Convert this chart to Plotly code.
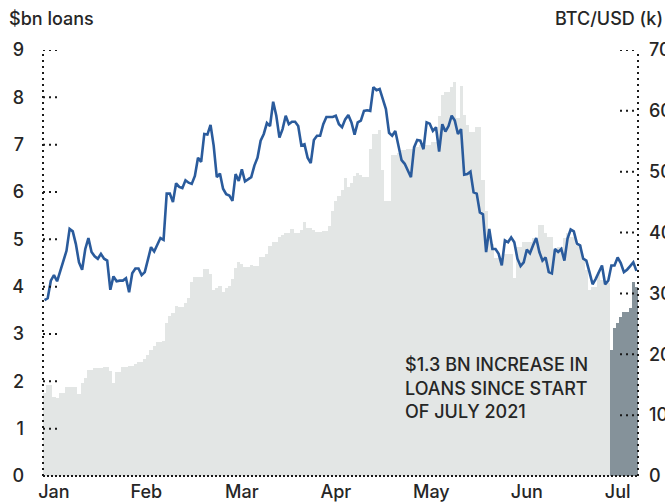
import pandas as pd
import plotly.graph_objects as go

# Daily data, 1 Jan 2021 – 9 Jul 2021
start_date = "2021-01-01"
n_days = 190
july_start_index = 181  # 1 July

loans_bn = [
    1.75, 1.92, 1.92, 1.67, 1.65, 1.75, 1.75, 1.88, 1.88, 1.88,
    1.88, 1.73, 1.96, 2.07, 2.24, 2.24, 2.28, 2.28, 2.28, 2.31,
    2.31, 2.22, 1.96, 2.20, 2.20, 2.30, 2.30, 2.33, 2.33, 2.37,
    2.40, 2.40, 2.47, 2.56, 2.66, 2.75, 2.83, 2.83, 2.85, 3.23,
    3.38, 3.44, 3.59, 3.58, 3.58, 3.66, 3.76, 4.10, 4.20, 4.20,
    4.20, 4.37, 4.37, 4.27, 3.93, 3.97, 4.01, 3.89, 3.97, 4.01,
    4.16, 4.39, 4.53, 4.48, 4.42, 4.42, 4.46, 4.44, 4.44, 4.63,
    4.63, 4.69, 4.86, 4.94, 4.94, 5.05, 5.09, 5.14, 5.14, 5.22,
    5.14, 5.14, 5.20, 5.37, 5.24, 5.24, 5.20, 5.15, 5.15, 5.18,
    5.18, 5.28, 5.60, 5.81, 5.91, 6.04, 6.30, 6.11, 6.19, 6.34,
    6.40, 6.36, 6.32, 6.32, 6.90, 7.22, 7.22, 7.31, 6.46, 5.82,
    5.82, 6.78, 6.78, 6.82, 6.89, 6.89, 6.90, 6.90, 6.95, 6.95,
    7.00, 7.00, 7.00, 7.00, 7.05, 7.05, 7.60, 8.05, 8.11, 8.11,
    8.22, 8.32, 7.56, 8.24, 7.63, 7.42, 7.27, 7.27, 7.37, 7.37,
    6.25, 5.60, 5.00, 4.90, 4.60, 4.60, 4.60, 4.70, 4.70, 4.70,
    4.18, 4.84, 4.84, 4.94, 4.94, 4.94, 5.03, 4.95, 5.30, 5.30,
    5.13, 5.05, 5.05, 4.78, 4.84, 4.84, 5.03, 5.13, 5.05, 5.05,
    4.88, 4.88, 4.60, 4.35, 3.93, 4.00, 4.00, 4.31, 4.14, 4.07,
    4.07, 2.66, 3.12, 3.23, 3.36, 3.46, 3.46, 3.55, 4.10, 4.00,
]

btc_usd_k = [
    28.9, 29.2, 32.1, 33.0, 32.0, 33.8, 35.4, 37.0, 40.6, 40.2,
    38.1, 35.1, 33.9, 37.3, 39.1, 36.8, 36.1, 35.7, 36.5, 35.7,
    35.4, 30.6, 32.8, 32.0, 32.1, 32.1, 32.5, 30.2, 33.3, 34.1,
    34.1, 33.0, 33.5, 35.7, 37.6, 36.9, 38.1, 39.1, 38.8, 46.4,
    46.4, 45.0, 48.1, 47.5, 47.3, 48.6, 48.2, 48.0, 49.3, 52.3,
    51.6, 56.2, 56.1, 57.7, 54.3, 49.1, 49.7, 47.2, 46.3, 46.1,
    45.2, 49.6, 48.5, 50.4, 48.4, 48.8, 49.1, 51.0, 52.3, 55.1,
    56.2, 58.0, 57.5, 61.5, 59.2, 55.6, 57.0, 59.2, 57.8, 58.2,
    58.2, 57.5, 54.3, 54.5, 52.3, 51.4, 55.2, 55.9, 55.9, 57.8,
    59.0, 59.0, 59.0, 59.2, 57.8, 57.3, 58.6, 59.3, 58.1, 56.1,
    58.1, 58.4, 60.0, 60.1, 60.0, 63.9, 63.4, 63.6, 61.9, 60.3,
    56.4, 55.9, 56.7, 54.3, 51.9, 51.3, 50.2, 49.1, 54.0, 55.2,
    55.1, 53.7, 58.1, 57.9, 56.7, 57.3, 53.3, 57.8, 56.6, 57.5,
    59.2, 58.4, 56.2, 57.0, 49.5, 49.6, 50.0, 46.6, 46.4, 43.3,
    43.0, 36.8, 40.6, 37.3, 37.3, 36.5, 34.6, 38.7, 38.4, 39.2,
    38.4, 35.7, 34.5, 35.1, 37.2, 36.6, 37.9, 39.1, 36.8, 35.4,
    35.9, 33.5, 33.3, 37.3, 36.8, 37.3, 35.4, 39.0, 40.5, 40.2,
    38.2, 37.9, 35.7, 35.4, 33.5, 31.5, 32.4, 33.5, 34.6, 31.5,
    32.1, 34.6, 34.6, 35.9, 35.0, 33.5, 33.9, 34.5, 35.1, 33.7,
]

month_labels = ["Jan", "Feb", "Mar", "Apr", "May", "Jun", "Jul"]
month_label_pos = ["2021-01-04", "2021-02-02 12:00", "2021-03-05", "2021-04-04",
                   "2021-05-04 12:00", "2021-06-04", "2021-07-03"]
left_ticks = list(range(0, 10))
right_ticks = list(range(0, 80, 10))

dates = pd.date_range(start_date, periods=n_days, freq="D")
day_ms = 86400000

LIGHT = "#e3e6e5"
DARK = "#85929a"
BLUE = "#2a5b9c"
TXT = "#262626"
FONT = "Inter"
FS = 18

fig = go.Figure()
fig.add_trace(go.Bar(x=dates[:july_start_index], y=loans_bn[:july_start_index],
                     marker=dict(color=LIGHT, line=dict(width=0)), width=day_ms,
                     hoverinfo="skip", showlegend=False))
fig.add_trace(go.Bar(x=dates[july_start_index:], y=loans_bn[july_start_index:],
                     marker=dict(color=DARK, line=dict(width=0)), width=day_ms,
                     hoverinfo="skip", showlegend=False))
fig.add_trace(go.Scatter(x=dates, y=btc_usd_k, yaxis="y2", mode="lines",
                         line=dict(color=BLUE, width=2.6), hoverinfo="skip",
                         showlegend=False))

shapes = []
dot = dict(color="#1a1a1a", width=2, dash="2px,4px")
shapes.append(dict(type="line", xref="paper", yref="paper", x0=0, x1=0, y0=0, y1=1, line=dot))
shapes.append(dict(type="line", xref="paper", yref="paper", x0=1, x1=1, y0=0, y1=1, line=dot))
shapes.append(dict(type="line", xref="paper", yref="paper", x0=0, x1=1, y0=0, y1=0,
                   line=dict(color="#1a1a1a", width=2, dash="2px,2px")))
tick_len = 18 / 595
for v in left_ticks[1:]:
    shapes.append(dict(type="line", xref="paper", yref="y", x0=0, x1=tick_len, y0=v, y1=v, line=dot))
for v in right_ticks[1:]:
    shapes.append(dict(type="line", xref="paper", yref="y2", x0=1 - tick_len, x1=1, y0=v, y1=v, line=dot))

tfont = dict(family=FONT, size=FS, color=TXT, weight=500)
annotations = [
    dict(text="$bn loans", xref="paper", yref="paper", x=-0.0605, y=1.075,
         xanchor="left", yanchor="middle", showarrow=False, font=tfont),
    dict(text="BTC/USD (k)", xref="paper", yref="paper", x=0.857, y=1.075,
         xanchor="left", yanchor="middle", showarrow=False, font=tfont),
]
note_lines = ["$1.3 BN INCREASE IN", "LOANS SINCE START", "OF JULY 2021"]
note_y = [0.2606, 0.2059, 0.1509]
for t, yy in zip(note_lines, note_y):
    annotations.append(dict(text=t, xref="paper", yref="paper", x=0.605, y=yy,
                            xanchor="left", yanchor="middle", showarrow=False, font=tfont))

fig.update_layout(
    width=665, height=503, autosize=False,
    margin=dict(l=43, r=27, t=50, b=27, pad=0, autoexpand=False),
    paper_bgcolor="white", plot_bgcolor="white",
    bargap=0, barmode="overlay",
    font=dict(family=FONT, color=TXT),
    xaxis=dict(type="date", range=["2020-12-31 12:00", "2021-07-09 12:00"],
               showgrid=False, zeroline=False, showline=False, ticks="",
               tickvals=month_label_pos, ticktext=month_labels, automargin=False,
               tickfont=tfont, ticklabelstandoff=3),
    yaxis=dict(range=[0, 9], tickvals=left_ticks, showgrid=False, zeroline=False,
               showline=False, ticks="", tickfont=tfont, automargin=False,
               ticklabelstandoff=18),
    yaxis2=dict(range=[0, 70], tickvals=right_ticks, overlaying="y", side="right",
                showgrid=False, zeroline=False, showline=False, ticks="",
                tickfont=tfont, automargin=False, ticklabelstandoff=10),
    shapes=shapes, annotations=annotations,
)

fig.write_html(
    "out.html",
    config={"displayModeBar": False},
    post_script="document.body.style.margin='0px';document.body.style.overflow='hidden';",
)
